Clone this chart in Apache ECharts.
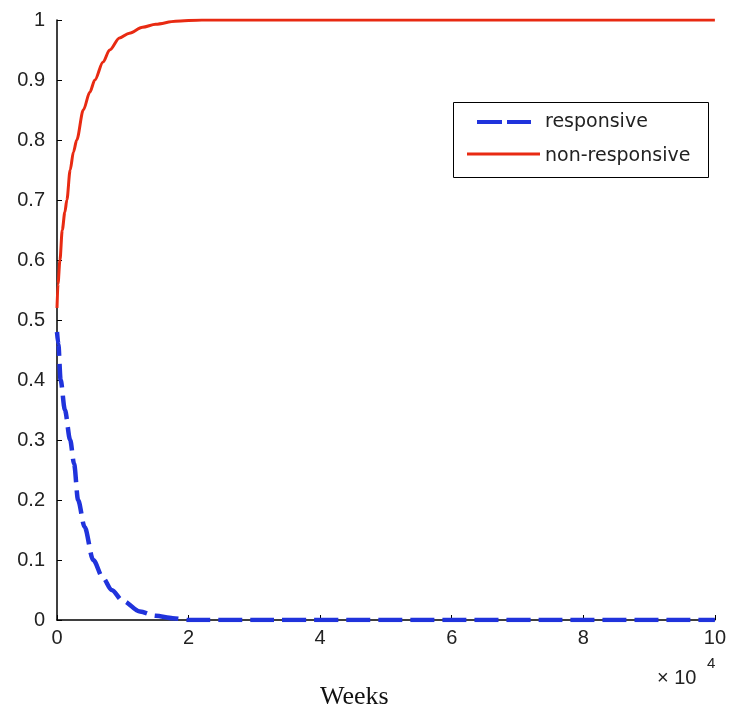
<!DOCTYPE html>
<html><head><meta charset="utf-8">
<script src="https://cdn.jsdelivr.net/npm/echarts@6/dist/echarts.min.js"></script>
<style>html,body{margin:0;padding:0;background:#fff}#c{width:729px;height:709px}</style>
</head><body><div id="c"></div>
<script>
// Weeks values and fractions
const redWeeks = [0,150,450,800,1200,1500,2000,2500,3000,4000,5000,5750,7000,8000,9500,11000,13000,15000,18000,22000,100000];
const redVals  = [0.52,0.56,0.60,0.65,0.68,0.70,0.75,0.78,0.80,0.85,0.88,0.90,0.93,0.95,0.97,0.978,0.988,0.993,0.998,1.0,1.0];
const blueWeeks = [0,200,550,1200,2000,2600,3200,4200,5500,7000,8300,10000,12600,15000,17600,20000,100000];
const blueVals  = [0.48,0.46,0.40,0.35,0.30,0.26,0.20,0.155,0.10,0.07,0.05,0.032,0.014,0.007,0.003,0.0,0.0];
const seriesNames = ['responsive','non-responsive'];
const xTicks = [0,2,4,6,8,10];
const yTicks = [0,0.1,0.2,0.3,0.4,0.5,0.6,0.7,0.8,0.9,1];
const blueColor = '#2033dc';
const redColor = '#e82a12';

const zip = (a,b)=>a.map((v,i)=>[v,b[i]]);
const chart = echarts.init(document.getElementById('c'));
const fontFam = '"Liberation Sans", Arial, sans-serif';
const legendFont = '19px "DejaVu Sans", sans-serif';
chart.setOption({
  animation:false,
  backgroundColor:'#fff',
  grid:{left:57,right:11,top:20,bottom:89},
  xAxis:{type:'value',min:0,max:100000,interval:20000,
    axisLine:{lineStyle:{color:'#000',width:1.5}},
    axisTick:{inside:true,length:5,lineStyle:{color:'#000'}},
    splitLine:{show:false},
    axisLabel:{margin:8,color:'#222',fontSize:20,fontFamily:fontFam,formatter:v=>String(v/10000)}},
  yAxis:{type:'value',min:0,max:1,interval:0.1,
    axisLine:{show:true,lineStyle:{color:'#000',width:1.5}},
    axisTick:{show:true,inside:true,length:5,lineStyle:{color:'#000'}},
    splitLine:{show:false},
    axisLabel:{margin:12,color:'#222',fontSize:20,fontFamily:fontFam,
      formatter:v=>{const r=Math.round(v*10)/10; return String(r);}}},
  series:[
    {name:seriesNames[0],type:'line',data:zip(blueWeeks,blueVals),symbol:'none',smooth:0.3,smoothMonotone:'x',
     lineStyle:{color:blueColor,width:4.5,type:[24,8]},itemStyle:{color:blueColor}},
    {name:seriesNames[1],type:'line',data:zip(redWeeks,redVals),symbol:'none',smooth:0.3,smoothMonotone:'x',
     lineStyle:{color:redColor,width:3},itemStyle:{color:redColor}}
  ],
  graphic:[
    {type:'rect',shape:{x:453.5,y:102.5,width:255,height:75},style:{fill:'#fff',stroke:'#000',lineWidth:1}},
    {type:'line',shape:{x1:477,y1:122,x2:531,y2:122},style:{stroke:blueColor,lineWidth:4,lineDash:[25,5]}},
    {type:'line',shape:{x1:467,y1:154,x2:540,y2:154},style:{stroke:redColor,lineWidth:3}},
    {type:'text',x:545,y:122,style:{text:seriesNames[0],font:legendFont,fill:'#222',verticalAlign:'middle'}},
    {type:'text',x:545,y:156,style:{text:seriesNames[1],font:legendFont,fill:'#222',verticalAlign:'middle'}},
    {type:'text',left:320,top:684,style:{text:'Weeks',font:'26px "Liberation Serif", serif',fill:'#111'}},
    {type:'text',left:657,top:668,style:{text:'× 10',font:'20px "Liberation Sans", Arial, sans-serif',fill:'#222'}},
    {type:'text',left:707,top:656,style:{text:'4',font:'15px "Liberation Sans", Arial, sans-serif',fill:'#222'}}
  ]
});
</script></body></html>
